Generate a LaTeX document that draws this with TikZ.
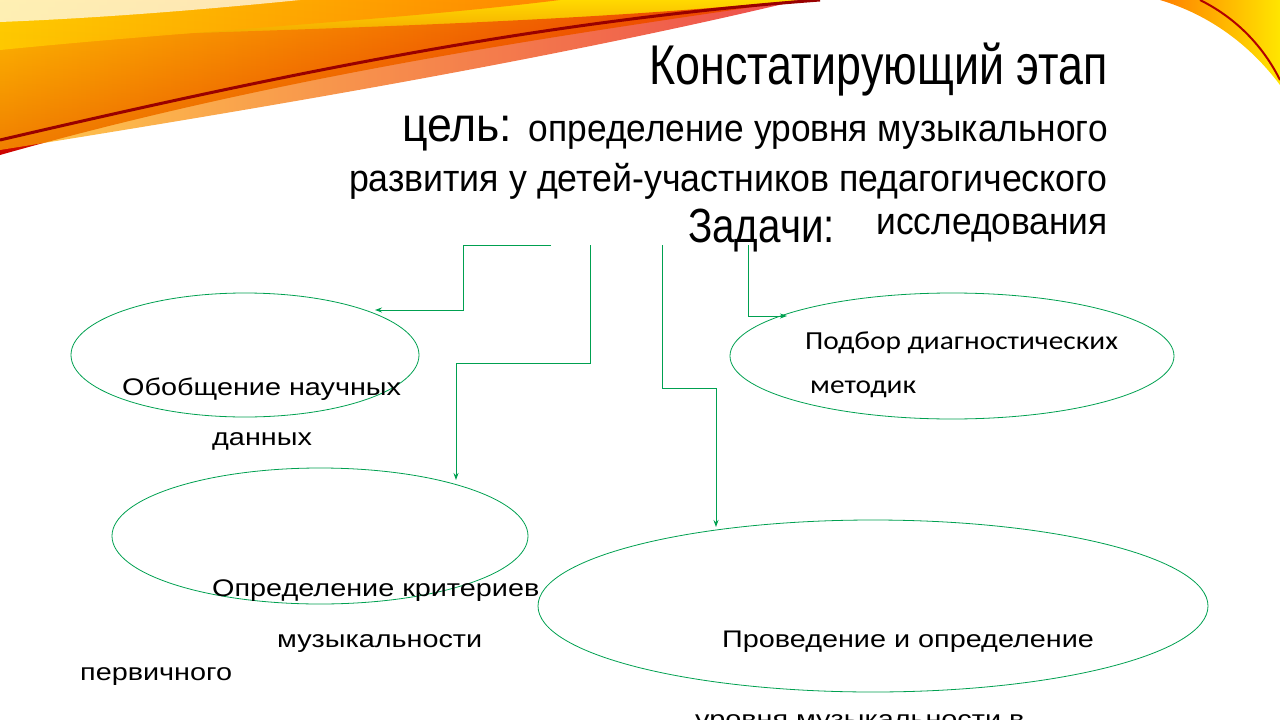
\documentclass[tikz,border=0pt]{standalone}
\usepackage{fontspec}
\setmainfont{Liberation Sans}
\newfontfamily\calib{Carlito}
\usetikzlibrary{arrows.meta}
\definecolor{grn}{RGB}{0,160,80}
\tikzset{
  conn/.style={draw=grn, line width=0.9pt, -{Stealth[length=7pt,width=5pt]}},
  oval/.style={draw=grn, line width=0.8pt},
  lbl/.style={anchor=base west, inner sep=0pt, font=\fontsize{24}{28}\selectfont},
}
\newcommand{\widetxt}[1]{\scalebox{1.2}[1]{#1}}
\newcommand{\widecal}[1]{\scalebox{1.13}[1]{#1}}
\begin{document}
\begin{tikzpicture}[x=1pt,y=-1pt]
\useasboundingbox (0,0) rectangle (1280,720);
\clip (0,0) rectangle (1280,720);
% swoosh
\shade[top color=yellow!70!orange, bottom color=red!80!black]
  (0,0) -- (800,0) .. controls (600,30) and (300,70) .. (0,155) -- cycle;
\shade[left color=orange!60!yellow, right color=red!90!black, opacity=0.7]
  (0,40) .. controls (250,30) and (550,25) .. (800,0) .. controls (550,60) and (250,110) .. (0,150) -- cycle;
\shade[left color=yellow!60!orange, right color=orange, opacity=0.9]
  (0,0) -- (560,0) .. controls (400,20) and (200,30) .. (0,50) -- cycle;
\fill[white, opacity=0.7] (0,0) -- (300,0) .. controls (200,10) and (100,18) .. (0,22) -- cycle;
\draw[red!60!black, line width=3pt] (0,140) .. controls (300,70) and (550,20) .. (820,0);
\shade[left color=orange, right color=yellow!80!orange]
  (1160,0) -- (1280,0) -- (1280,85) .. controls (1250,45) and (1210,15) .. (1160,0) -- cycle;
\draw[red!70!black, line width=2pt] (1200,0) .. controls (1240,20) and (1265,50) .. (1280,80);
% headings
\node[anchor=base east, inner sep=0pt] (title) at (1108,84) {\scalebox{0.8}[1]{\fontsize{56}{60}\selectfont Констатирующий этап}};
\node[anchor=base east, inner sep=0pt] (goal) at (1108,141) {\scalebox{0.93}[1]{\fontsize{48}{50}\selectfont цель: \fontsize{38}{40}\selectfont определение уровня музыкального}};
\node[anchor=base east, inner sep=0pt] (goal2) at (1108,191) {\scalebox{0.94}[1]{\fontsize{38}{40}\selectfont развития у детей-участников педагогического}};
\node[anchor=base east, inner sep=0pt] (goal3) at (1108,234) {\scalebox{0.93}[1]{\fontsize{38}{40}\selectfont исследования}};
\node[anchor=base west, inner sep=0pt] (tasks) at (688,242) {\scalebox{0.84}[1]{\fontsize{48}{50}\selectfont Задачи:}};
% ellipses
\draw[oval] (245,355) ellipse [x radius=174, y radius=62];
\draw[oval] (320,536) ellipse [x radius=208, y radius=68];
\draw[oval] (873,606) ellipse [x radius=335, y radius=86];
\draw[oval] (952,356) ellipse [x radius=222, y radius=63];
% labels
\node[lbl] (t1) at (122,395) {\widetxt{Обобщение научных}};
\node[lbl] (t1b) at (212,445) {\widetxt{данных}};
\node[lbl] (t2) at (212,596) {\widetxt{Определение критериев}};
\node[lbl] (t2b) at (277,647) {\widetxt{музыкальности}};
\node[lbl] (t2c) at (80,680) {\widetxt{первичного}};
\node[lbl] (t3) at (722,647) {\widetxt{Проведение и определение}};
\node[lbl] (t3b) at (695,727) {\widetxt{уровня музыкальности в}};
\node[lbl, font=\calib\fontsize{26}{28}\selectfont] (t4) at (805,349) {\widecal{Подбор диагностических}};
\node[lbl, font=\calib\fontsize{26}{28}\selectfont] (t4b) at (810,393) {\widecal{методик}};
% connectors
\coordinate (a0) at (551,245); \coordinate (a1) at (375,310);
\coordinate (b0) at (590,245); \coordinate (b1) at (456,480);
\coordinate (c0) at (662,245); \coordinate (c1) at (716,527);
\coordinate (d0) at (748,245); \coordinate (d1) at (787,316);
\draw[conn] (a0) -- (463,245) -- (463,310) -- (a1);
\draw[conn] (b0) -- (590,363) -- (456,363) -- (b1);
\draw[conn] (c0) -- (662,388) -- (716,388) -- (c1);
\draw[conn] (d0) -- (748,316) -- (d1);
\end{tikzpicture}
\end{document}
